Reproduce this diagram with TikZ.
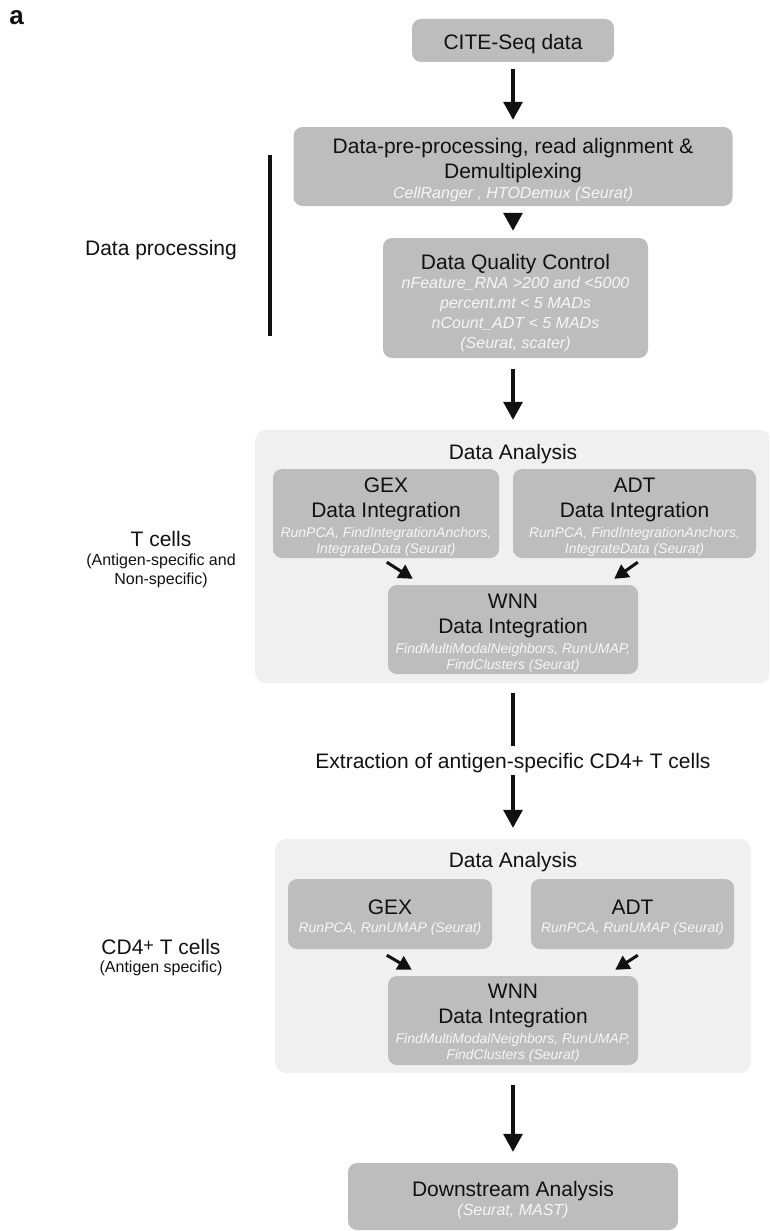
\documentclass[tikz,border=0pt]{standalone}
\usepackage{fontspec}
\setmainfont{Liberation Sans}
\usetikzlibrary{arrows.meta,calc}

\definecolor{boxgray}{RGB}{189,189,189}
\definecolor{panelgray}{RGB}{240,240,240}
\definecolor{subwhite}{RGB}{246,246,246}
\definecolor{ink}{RGB}{17,17,17}

% type sizes: step titles, tool lines (large / small), side notes
\newcommand\titlesize{\fontsize{21}{25}\selectfont}
\newcommand\subL{\fontsize{16}{19}\selectfont\itshape\color{subwhite}}
\newcommand\subS{\fontsize{14}{16}\selectfont\itshape\color{subwhite}}
\newcommand\noteS{\fontsize{16}{19}\selectfont}
% raised plus sign of the CD4+ label
\newcommand\supplus{\raisebox{3.4pt}{\fontsize{18}{18}\selectfont +}}

\begin{document}
\begin{tikzpicture}[x=1pt,y=-1pt,
  box/.style={fill=boxgray, rounded corners=9pt, inner sep=0pt},
  panel/.style={fill=panelgray, rounded corners=11pt, inner sep=0pt},
  txt/.style={align=center, inner sep=0pt, text=ink, font=\titlesize},
  flow/.style={-{Triangle[width=19pt,length=18pt]}, line width=3.3pt, draw=ink},
  merge/.style={-{Triangle[width=15pt,length=14pt]}, line width=3pt, draw=ink},
  stem/.style={line width=3.3pt, draw=ink},
]
\clip (0,0) rectangle (769,1231);

% panel tag
\node[inner sep=0pt, text=ink, font=\fontsize{26}{30}\selectfont\bfseries] (tag) at (16.5,17.5) {a};

% ---- data processing ----
\node[box, minimum width=202pt, minimum height=43pt] (cite) at (513,40.5) {};
\node[txt] (cite-t) at (513,44.5) {CITE-Seq data};

\node[box, minimum width=439pt, minimum height=79pt] (pre) at (513,166.5) {};
\node[txt] (pre-t) at (513,170.2) {Data-pre-processing, read alignment \&\\Demultiplexing\\[-4.3pt]{\subL CellRanger , HTODemux (Seurat)}};

\node[box, minimum width=265pt, minimum height=120pt] (qc) at (515.5,298) {};
\node[txt] (qc-t) at (515.5,302.9) {Data Quality Control\\[-6pt]{\subL nFeature\_RNA >200 and <5000}\\[-5pt]{\subL percent.mt < 5 MADs}\\[-5pt]{\subL nCount\_ADT < 5 MADs}\\[-5pt]{\subL (Seurat, scater)}};

\node[txt] (lab-proc) at (161,250) {Data processing};
\coordinate (bar-top) at (270,155);
\coordinate (bar-bot) at (270,336);
\draw[stem, line width=3.5pt] (bar-top) -- (bar-bot);

% ---- analysis of all T cells ----
\node[panel, minimum width=516pt, minimum height=253pt] (p1) at (513,556.5) {};
\node[txt] (p1-t) at (513,453.9) {Data Analysis};

\node[box, minimum width=226pt, minimum height=89pt] (gex1) at (386,513.5) {};
\node[txt] (gex1-t) at (386,517.1) {GEX\\Data Integration\\[-5pt]{\subS RunPCA, FindIntegrationAnchors,}\\[-9pt]{\subS IntegrateData (Seurat)}};

\node[box, minimum width=243pt, minimum height=89pt] (adt1) at (634.5,513.5) {};
\node[txt] (adt1-t) at (634.5,517.1) {ADT\\Data Integration\\[-5pt]{\subS RunPCA, FindIntegrationAnchors,}\\[-9pt]{\subS IntegrateData (Seurat)}};

\node[box, minimum width=250pt, minimum height=89pt] (wnn1) at (513,629.5) {};
\node[txt] (wnn1-t) at (513,632.8) {WNN\\Data Integration\\[-5pt]{\subS FindMultiModalNeighbors, RunUMAP,}\\[-9pt]{\subS FindClusters (Seurat)}};

\node[txt] (lab-t) at (161,559.4) {T cells\\[-5.5pt]{\noteS (Antigen-specific and}\\[-6pt]{\noteS Non-specific)}};

% ---- extraction step ----
\node[txt] (ext) at (513,762.8) {Extraction of antigen-specific CD4+ T cells};

% ---- analysis of antigen-specific CD4+ T cells ----
\node[panel, minimum width=476pt, minimum height=234pt] (p2) at (513,956) {};
\node[txt] (p2-t) at (513,861.85) {Data Analysis};

\node[box, minimum width=204pt, minimum height=70pt] (gex2) at (390,914) {};
\node[txt] (gex2-t) at (390,917.6) {GEX\\[-7.7pt]{\subS RunPCA, RunUMAP (Seurat)}};

\node[box, minimum width=203pt, minimum height=70pt] (adt2) at (632.5,914) {};
\node[txt] (adt2-t) at (632.5,917.6) {ADT\\[-7.7pt]{\subS RunPCA, RunUMAP (Seurat)}};

\node[box, minimum width=250pt, minimum height=89pt] (wnn2) at (513,1020.5) {};
\node[txt] (wnn2-t) at (513,1023.1) {WNN\\Data Integration\\[-5.7pt]{\subS FindMultiModalNeighbors, RunUMAP,}\\[-9pt]{\subS FindClusters (Seurat)}};

\node[txt] (lab-cd4) at (161,958) {CD4\supplus{} T cells\\[-7pt]{\noteS (Antigen specific)}};

% ---- downstream ----
\node[box, minimum width=330pt, minimum height=67pt] (down) at (513,1196.5) {};
\node[txt] (down-t) at (513,1200.25) {Downstream Analysis\\[-6pt]{\subL (Seurat, MAST)}};

% ---- connectors ----
\draw[flow, shorten <=7pt, shorten >=7pt] (cite) -- (pre);
\draw[flow, shorten <=7pt, shorten >=7pt] (pre.south) -- (pre.south |- qc.north);
\draw[flow, shorten <=11pt, shorten >=10pt] (qc.south -| cite.south) -- (p1.north);
\draw[stem, shorten <=10pt, shorten >=7pt] (p1) -- (ext);
\draw[flow, shorten <=2.3pt, shorten >=11pt] (ext) -- (p2);
\draw[flow, shorten <=12pt, shorten >=11pt] (p2) -- (down);

\draw[merge] ($(gex1.south west)+(114,4)$) -- ($(wnn1.north west)+(25,-6)$);
\draw[merge] ($(adt1.south west)+(125,4)$) -- ($(wnn1.north east)+(-24,-6)$);
\draw[merge] ($(gex2.south west)+(99,6)$) -- ($(wnn2.north west)+(24,-6)$);
\draw[merge] ($(adt2.south west)+(107,6)$) -- ($(wnn2.north east)+(-23,-6)$);
\end{tikzpicture}
\end{document}
